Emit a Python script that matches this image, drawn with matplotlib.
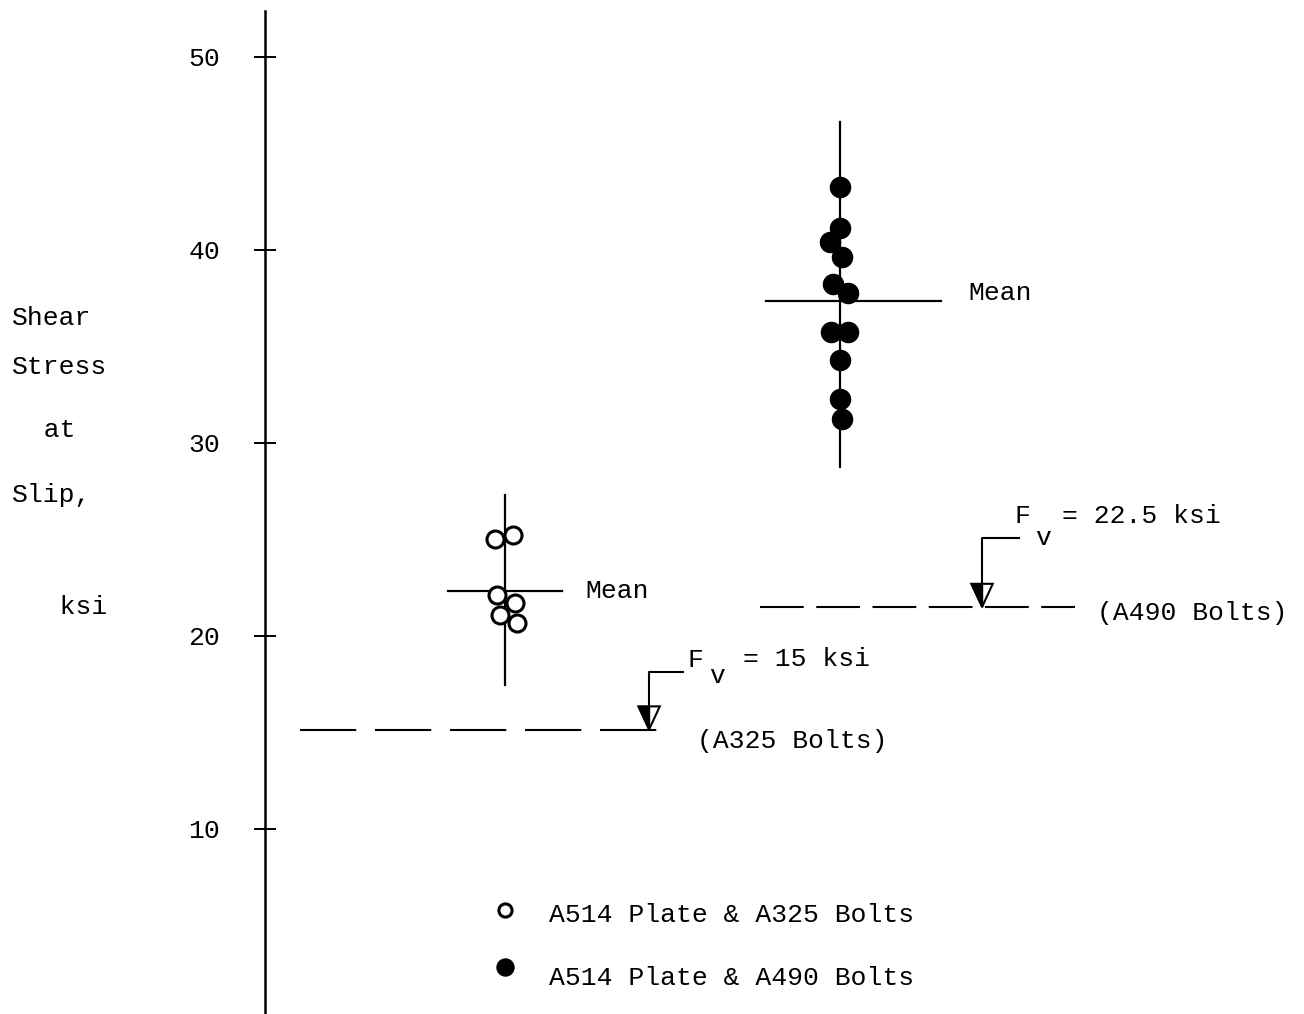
import numpy as np
import matplotlib.pyplot as plt

# data (ksi)
group_x = [1, 2]
a325_vals = [25.03, 25.23, 22.12, 21.71, 21.09, 20.67]
a325_jitter = [-0.03, 0.024, -0.024, 0.03, -0.015, 0.036]
a490_vals = [43.26, 41.14, 40.41, 39.64, 38.24, 37.77, 35.75, 35.75, 34.30, 32.28, 31.24]
a490_jitter = [0.0, 0.0, -0.03, 0.006, -0.02, 0.025, -0.026, 0.025, 0.0, 0.0, 0.006]
means = [22.33, 37.36]
ranges = [(17.46, 27.3), (28.76, 46.63)]
mean_extent = [(-0.17, 0.17), (-0.22, 0.30)]
allow_a325 = 15.15
allow_a490 = 21.5
yticks = [10, 20, 30, 40, 50]
ylabel_lines = ["Shear", "Stress", "  at", "Slip,", "   ksi"]
ylabel_y = [36.48, 33.94, 30.67, 27.31, 21.5]

font = "Liberation Mono"
fs = 19
plt.rcParams['font.family'] = [font, 'DejaVu Sans Mono']

fig = plt.figure(figsize=(13.04, 10.14), dpi=100)
ax = fig.add_axes([0, 0, 1, 1])
ax.set_xlim(-0.5075, 3.385)
ax.set_ylim(0.41, 52.95)

# axis styling: only the left spine, crossing ticks
for s in ['top', 'right', 'bottom']:
    ax.spines[s].set_visible(False)
ax.spines['left'].set_position(('data', 0.284))
ax.spines['left'].set_linewidth(1.8)
ax.spines['left'].set_bounds(0.41, 52.4)
ax.set_xticks([])
ax.set_yticks(yticks)
ax.set_yticklabels([str(t) for t in yticks], fontsize=fs)
ax.tick_params(axis='y', direction='inout', length=15.8, width=1.4, pad=24.5)
ax.patch.set_alpha(0)

# vertical range lines and mean bars
for gx, (lo, hi), m, (l, r) in zip(group_x, ranges, means, mean_extent):
    ax.plot([gx, gx], [lo, hi], color='black', lw=1.6)
    ax.plot([gx + l, gx + r], [m, m], color='black', lw=1.6)

ax.scatter(np.array(a325_jitter) + group_x[0], a325_vals, s=150, facecolors='white',
           edgecolors='black', linewidths=2.2, zorder=3)
ax.scatter(np.array(a490_jitter) + group_x[1], a490_vals, s=210, color='black', zorder=3)

ax.text(1.239, means[0], "Mean", fontsize=fs, va='center', ha='left')
ax.text(2.382, means[1] + 0.4, "Mean", fontsize=fs, va='center', ha='left')

# allowable stress lines
ax.plot([0.388, 1.507], [allow_a325, allow_a325], color='black', lw=1.5, dashes=(27, 9))
ax.plot([1.761, 2.701], [allow_a490, allow_a490], color='black', lw=1.5, dashes=(21, 6))


def fv_marker(x, y, top, stub):
    # bent leader line with a half filled triangle sitting on the line
    ax.plot([x + stub, x, x], [top, top, y + 1.2], color='black', lw=1.5)
    tri_x = [x - 0.032, x + 0.032, x]
    tri_y = [y + 1.2, y + 1.2, y]
    ax.fill(tri_x, tri_y, facecolor='white', edgecolor='black', lw=1.5, zorder=3)
    ax.fill([x - 0.032, x, x], [y + 1.2, y + 1.2, y], color='black', zorder=4)


fv_marker(1.43, allow_a325, 18.14, 0.1)
fv_marker(2.424, allow_a490, 25.08, 0.11)

ax.text(1.546, 18.76, "F", fontsize=fs, va='center', ha='left')
ax.text(1.609, 17.92, "v", fontsize=fs, va='center', ha='left')
ax.text(1.710, 18.81, "= 15 ksi", fontsize=fs, va='center', ha='left')
ax.text(1.573, 14.56, "(A325 Bolts)", fontsize=fs, va='center', ha='left')

ax.text(2.522, 26.22, "F", fontsize=fs, va='center', ha='left')
ax.text(2.582, 25.07, "v", fontsize=fs, va='center', ha='left')
ax.text(2.663, 26.22, "= 22.5 ksi", fontsize=fs, va='center', ha='left')
ax.text(2.767, 21.19, "(A490 Bolts)", fontsize=fs, va='center', ha='left')

# y axis title, one word per line
for line, yy in zip(ylabel_lines, ylabel_y):
    ax.text(-0.472, yy, line, fontsize=fs, va='center', ha='left')

# legend
ax.scatter([1.0], [5.8], s=90, facecolors='white', edgecolors='black', linewidths=2.2)
ax.scatter([1.0], [2.85], s=150, color='black')
ax.text(1.131, 5.54, "A514 Plate & A325 Bolts", fontsize=fs, va='center', ha='left')
ax.text(1.131, 2.28, "A514 Plate & A490 Bolts", fontsize=fs, va='center', ha='left')

fig.savefig("out.png", dpi=100)
